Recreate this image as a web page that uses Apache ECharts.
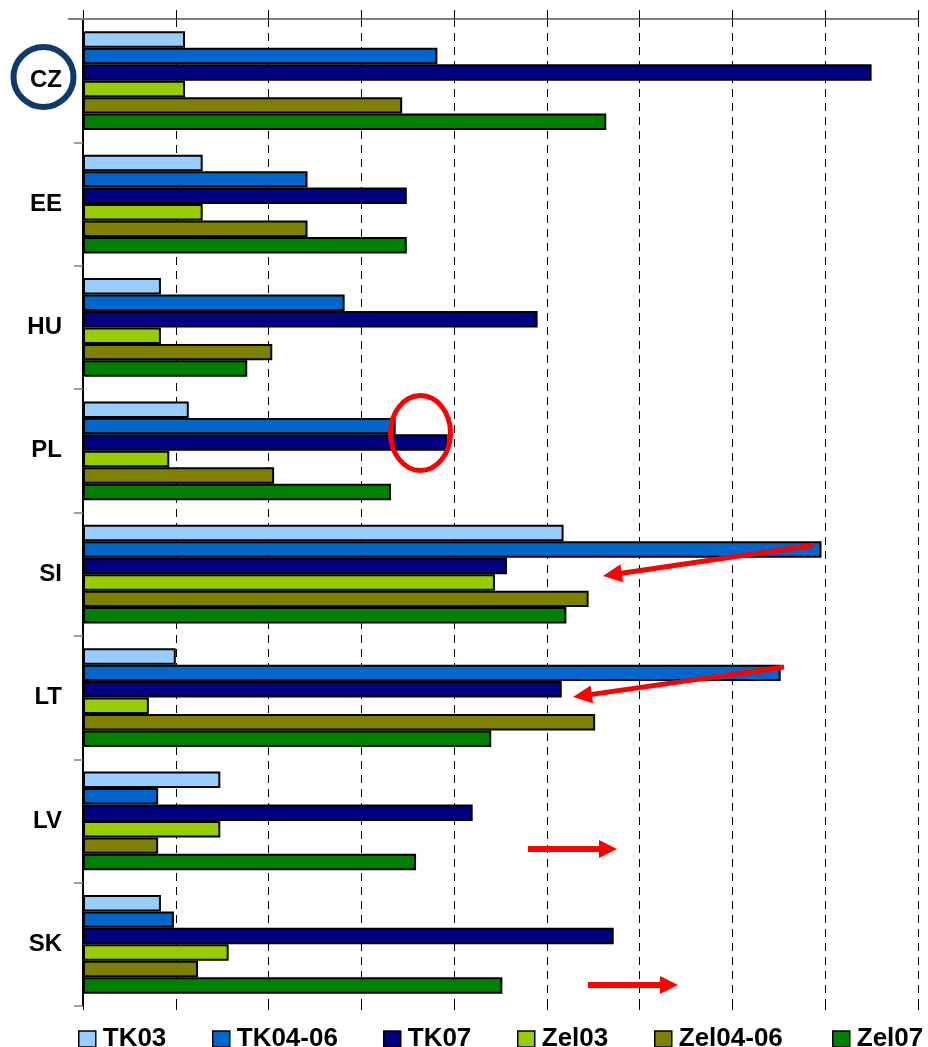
<!DOCTYPE html>
<html>
<head>
<meta charset="utf-8">
<script src="https://cdn.jsdelivr.net/npm/echarts@6/dist/echarts.min.js"></script>
<style>
html,body{margin:0;padding:0;background:#fff;}
#chart{width:928px;height:1047px;}
</style>
</head>
<body>
<div id="chart"></div>
<script>
// ---- data ----
const categories = ['CZ', 'EE', 'HU', 'PL', 'SI', 'LT', 'LV', 'SK'];
const seriesNames = ['TK03', 'TK04-06', 'TK07', 'Zel03', 'Zel04-06', 'Zel07'];
const TK03     = [1.10, 1.29, 0.84, 1.14, 5.18, 1.00, 1.48, 0.84];
const TK04_06  = [3.82, 2.42, 2.82, 3.37, 7.96, 7.52, 0.81, 0.98];
const TK07     = [8.50, 3.49, 4.90, 3.93, 4.57, 5.16, 4.20, 5.72];
const Zel03    = [1.10, 1.29, 0.84, 0.93, 4.44, 0.71, 1.48, 1.57];
const Zel04_06 = [3.44, 2.42, 2.04, 2.06, 5.45, 5.52, 0.81, 1.24];
const Zel07    = [5.64, 3.49, 1.77, 3.32, 5.21, 4.40, 3.59, 4.52];
const seriesData = [TK03, TK04_06, TK07, Zel03, Zel04_06, Zel07];
const colors = ['#99CCFF', '#0066CC', '#000080', '#99CC00', '#808000', '#008000'];
const legendLefts = [73, 207, 378, 512, 649, 827];

const chart = echarts.init(document.getElementById('chart'), null, {renderer: 'canvas'});

function arrow(x1, y1, x2, y2, w, L, H) {
  const dx = x2 - x1, dy = y2 - y1;
  const len = Math.sqrt(dx * dx + dy * dy);
  const ux = dx / len, uy = dy / len;
  const nx = -uy, ny = ux;
  const bx = x2 - ux * L, by = y2 - uy * L;
  return [
    {type: 'line', shape: {x1: x1, y1: y1, x2: bx + ux * 2, y2: by + uy * 2},
     style: {stroke: '#FF0000', lineWidth: w}, z: 100},
    {type: 'polygon', shape: {points: [[x2, y2], [bx + nx * H, by + ny * H], [bx - nx * H, by - ny * H]]},
     style: {fill: '#FF0000'}, z: 100}
  ];
}

const graphics = [
  {type: 'line', shape: {x1: 68, y1: 19, x2: 84, y2: 19}, style: {stroke: '#808080', lineWidth: 2}, z: 50},
  {type: 'circle', shape: {cx: 43.5, cy: 77, r: 30}, style: {fill: 'none', stroke: '#0F3A6B', lineWidth: 6}, z: 100},
  {type: 'ellipse', shape: {cx: 420.5, cy: 433, rx: 30, ry: 37.5}, style: {fill: 'none', stroke: '#FF0000', lineWidth: 5}, z: 100}
].concat(
  arrow(814, 545, 603, 576, 5, 19, 9),
  arrow(784, 667, 573, 697, 5, 19, 9),
  arrow(528, 849, 617, 849, 6, 18, 9),
  arrow(588, 985, 678, 985, 6, 18, 9)
);

const option = {
  backgroundColor: '#ffffff',
  animation: false,
  textStyle: {fontFamily: 'Liberation Sans, Arial, sans-serif'},
  grid: {left: 83, right: 10, top: 19, bottom: 41, containLabel: false},
  legend: seriesNames.map((name, i) => ({
    data: [name],
    left: legendLefts[i],
    top: 1021,
    icon: 'rect',
    itemWidth: 17,
    itemHeight: 16,
    itemGap: 0,
    selectedMode: false,
    itemStyle: {borderColor: '#000', borderWidth: 1.5},
    textStyle: {fontSize: 26, fontWeight: 'bold', color: '#000', fontFamily: 'Liberation Sans, Arial, sans-serif', padding: [0, 0, 0, 2]}
  })),
  xAxis: [
    {
      type: 'value', position: 'bottom', min: 0, max: 9, interval: 1,
      axisLine: {show: false},
      axisTick: {show: true, length: 4, lineStyle: {color: '#000', width: 1}},
      axisLabel: {show: false},
      splitLine: {show: true, lineStyle: {color: '#000', width: 1, type: [8, 6]}}
    },
    {
      type: 'value', position: 'top', min: 0, max: 9, interval: 1,
      axisLine: {show: true, lineStyle: {color: '#808080', width: 2}},
      axisTick: {show: true, length: 9, lineStyle: {color: '#000', width: 1}},
      axisLabel: {show: false},
      splitLine: {show: false}
    }
  ],
  yAxis: {
    type: 'category',
    data: categories,
    inverse: true,
    axisLine: {show: true, lineStyle: {color: '#000', width: 2}},
    axisTick: {show: true, length: 9, lineStyle: {color: '#808080', width: 1.5}},
    axisLabel: {fontSize: 24, fontWeight: 'bold', color: '#000', margin: 21,
                fontFamily: 'Liberation Sans, Arial, sans-serif'}
  },
  series: seriesNames.map((name, i) => ({
    name: name,
    type: 'bar',
    xAxisIndex: 0,
    data: seriesData[i],
    barGap: '0%',
    barCategoryGap: '20%',
    itemStyle: {color: colors[i], borderColor: '#000', borderWidth: 2},
    emphasis: {disabled: true}
  })),
  graphic: graphics
};

chart.setOption(option);
</script>
</body>
</html>
